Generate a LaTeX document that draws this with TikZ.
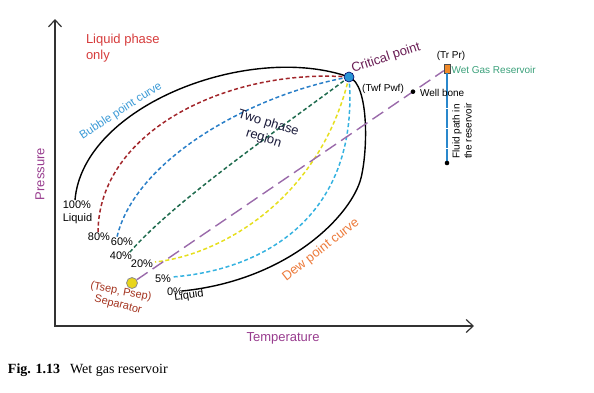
\documentclass[tikz,border=0pt]{standalone}
\usepackage{fontspec}
\setmainfont{Liberation Sans}
\newfontfamily\capfont{Liberation Serif}
\usetikzlibrary{arrows.meta,calc}
\definecolor{axcol}{HTML}{333333}
\definecolor{axlab}{HTML}{983C8E}
\definecolor{liqred}{HTML}{D63C3C}
\definecolor{bubblue}{HTML}{3B9AD6}
\definecolor{cdred}{HTML}{A2262B}
\definecolor{cblue}{HTML}{2A7FC8}
\definecolor{cgreen}{HTML}{1F6B4E}
\definecolor{cyellow}{HTML}{E6DF1E}
\definecolor{clblue}{HTML}{35B2E0}
\definecolor{pline}{HTML}{9A6AAA}
\definecolor{dewor}{HTML}{EC7A3A}
\definecolor{crit}{HTML}{6A1E55}
\definecolor{wetgreen}{HTML}{3AA07A}
\definecolor{septxt}{HTML}{A3321E}
\definecolor{cpfill}{HTML}{2A95D5}
\definecolor{resor}{HTML}{F08A2A}
\definecolor{fluid}{HTML}{2A88CC}
\definecolor{twoph}{HTML}{1A1A3A}
\tikzset{axtip/.tip={Straight Barb[length=7pt,width=13pt,line width=1.2pt]}}
\begin{document}
\begin{tikzpicture}[x=1pt,y=-1pt,
  txt/.style={inner sep=0pt, outer sep=0pt},
  big/.style={txt, font=\fontsize{13}{16}\selectfont},
  mid/.style={txt, font=\fontsize{11}{13}\selectfont},
  small/.style={txt, font=\fontsize{10}{12}\selectfont},
  axisline/.style={draw=axcol, line width=1.2pt},
  envelope/.style={draw=black, line width=1.4pt},
  qcurve/.style={line width=1.5pt, dash pattern=on 4pt off 2.6pt},
  pathline/.style={draw=pline, line width=1.4pt, dash pattern=on 13pt off 6pt},
  dotmark/.style={circle, fill=black, inner sep=0pt, minimum size=4.6pt}
]
\useasboundingbox (0,0) rectangle (594,392);

% axes
\coordinate (O) at (55,326);
\coordinate (ytip) at (55,19);
\coordinate (xtip) at (474,326);
\draw[axisline, axtip-axtip] (ytip) -- (O) -- (xtip);
\node[big, text=axlab, rotate=90] (plab) at (40,174) {Pressure};
\node[big, text=axlab] (tlab) at (283,338) {Temperature};

% key positions
\coordinate (CP) at (349,77);
\coordinate (SEP) at (132,283);
\coordinate (RES) at (447,68.5);
\coordinate (bub0) at (75,200);
\coordinate (dewmid) at (361,178);
\coordinate (dew0) at (182,291);

% phase envelope
\draw[envelope] (bub0) .. controls (83,105) and (250,42) .. (CP)
  .. controls (369,84) and (368,150) .. (dewmid)
  .. controls (352,214) and (290,280) .. (dew0);

% quality lines
\coordinate (q80) at (98,233);
\coordinate (q60) at (117,237);
\coordinate (q40) at (130,252);
\coordinate (q20) at (155,262);
\coordinate (q5) at (172,277);
\draw[qcurve, cdred] (CP) .. controls (230,68) and (98,130) .. (q80);
\draw[qcurve, cblue] (CP) .. controls (250,95) and (135,160) .. (q60);
\draw[qcurve, cgreen] (CP) .. controls (285,125) and (175,200) .. (q40);
\draw[qcurve, cyellow] (CP) .. controls (320,200) and (220,255) .. (q20);
\draw[qcurve, clblue] (CP) .. controls (360,215) and (265,270) .. (q5);

% reservoir / fluid path
\node[draw=black!70, fill=resor, line width=0.5pt, minimum width=6pt, minimum height=9pt, inner sep=0pt] (res) at (RES) {};
\coordinate (fpend) at (447,163);
\draw[fluid, line width=2.2pt] (res.south) -- (fpend);
\foreach \yy in {108,128,148} \draw[white, line width=0.8pt] (445.5,\yy) -- (448.5,\yy);
\node[dotmark] (fpdot) at (fpend) {};

% path from reservoir to separator
\node[circle, fill=cyellow!90!orange, draw=black!45, line width=0.8pt, minimum size=11pt, inner sep=0pt] (sep) at (SEP) {};
\draw[pathline] (sep) -- (res);
\node[dotmark] (wb) at ($(SEP)!0.892!(RES)$) {};

% critical point
\node[circle, fill=cpfill, draw=black!60!blue, line width=0.6pt, minimum size=10pt, inner sep=0pt] (cp) at (CP) {};

% labels
\node[big, text=liqred, align=left, anchor=north west] (liq) at (86,34) {Liquid phase\\only};
\node[txt, font=\fontsize{11.5}{13}\selectfont, text=bubblue, rotate=33] (bub) at (121,111) {Bubble point curve};
\node[big, text=twoph, align=center, rotate=-17] (two) at (266,131) {Two phase\\region};
\node[big, text=crit, rotate=18] (crl) at (386,58) {Critical point};
\node[small] (twf) at (383,89) {(Twf Pwf)};
\node[small] (trpr) at (451,56) {(Tr Pr)};
\node[small, text=wetgreen, anchor=west] (wgr) at (451.5,70) {Wet Gas Reservoir};
\node[small, anchor=west] (wbl) at (420,93) {Well bone};
\node[small, align=left, rotate=90] (fpl) at (462,131) {Fluid path in\\the reservoir};

\node[mid, align=left] (p100) at (77.5,212) {100\%\\Liquid};
\node[mid] (p80) at (99,237) {80\%};
\node[mid] (p60) at (122,242) {60\%};
\node[mid] (p40) at (121,256) {40\%};
\node[mid] (p20) at (142,264) {20\%};
\node[mid] (p5) at (163,279) {5\%};
\node[mid] (p0) at (175,292) {0\%};
\node[mid, rotate=8] (p0l) at (189,296) {Liquid};
\node[mid, text=septxt, rotate=-11] (sepl) at (121,292) {(Tsep, Psep)};
\node[mid, text=septxt, rotate=-14] (sepn) at (118,305) {Separator};
\node[big, text=dewor, rotate=38] (dew) at (321,250) {Dew point curve};

% caption
\node[txt, anchor=base west, font=\capfont\fontsize{14}{16}\selectfont] (cap) at (8,373) {\textbf{Fig. 1.13}\hspace{10pt}Wet gas reservoir};
\end{tikzpicture}
\end{document}
